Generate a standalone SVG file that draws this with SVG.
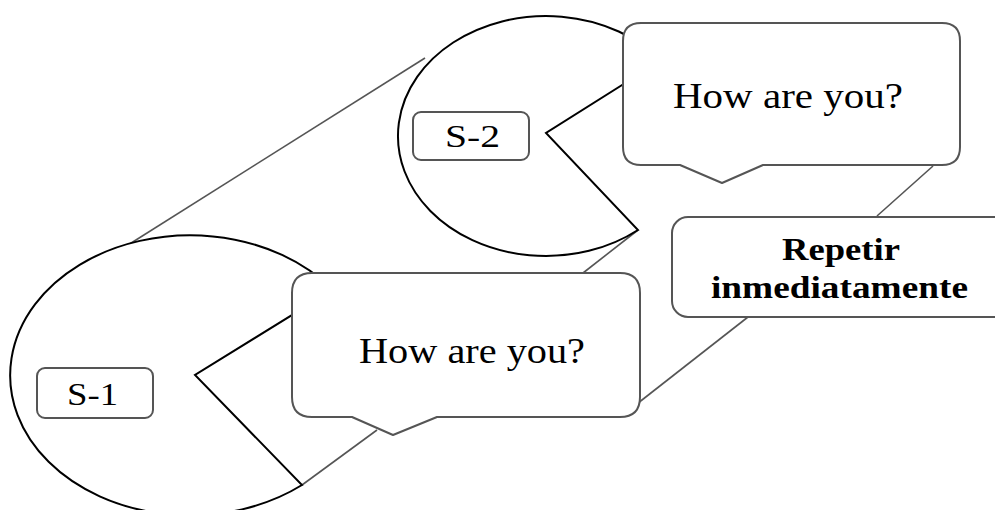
<svg xmlns="http://www.w3.org/2000/svg" width="995" height="510" viewBox="0 0 995 510">
<style>
.head{fill:#fff;stroke:#000;stroke-width:2;stroke-linejoin:miter}
.bubble{fill:#fff;stroke:#555;stroke-width:2;stroke-linejoin:round}
.label{fill:#fff;stroke:#555;stroke-width:2}
.conn{fill:none;stroke:#555;stroke-width:1.6}
.t{font-family:"Liberation Serif","Times New Roman",serif;fill:#000}
.b{font-weight:bold}
</style>
<rect width="995" height="510" fill="#fff"/>
<g id="connectors">
<line class="conn" x1="128" y1="245" x2="425" y2="58"/>
<line class="conn" x1="583" y1="273" x2="638" y2="230"/>
<line class="conn" x1="933" y1="166" x2="877" y2="216"/>
<line class="conn" x1="748" y1="317" x2="633" y2="407"/>
<line class="conn" x1="302" y1="485" x2="377" y2="430"/>
</g>
<g id="s2-head">
<path class="head" d="M661,60.5 L546,133 L638,230 A148 120 0 1 1 661,60.5 Z"/>
</g>
<g id="s2-label">
<rect class="label" x="413" y="112" width="116" height="48" rx="8"/>
<text class="t" x="445" y="147" font-size="32" textLength="55" lengthAdjust="spacingAndGlyphs">S-2</text>
</g>
<g id="s2-bubble">
<path class="bubble" d="M641,23 H942 Q960,23 960,41 V147 Q960,165 942,165 H763 L722,183 L680,165 H641 Q623,165 623,147 V41 Q623,23 641,23 Z"/>
<text class="t" x="673" y="108" font-size="36" textLength="230" lengthAdjust="spacingAndGlyphs">How are you?</text>
</g>
<g id="s1-head">
<path class="head" d="M332.7,289.8 L195,375 L302,485 A180 140 0 1 1 332.7,289.8 Z"/>
</g>
<g id="s1-label">
<rect class="label" x="37" y="368" width="116" height="50" rx="8"/>
<text class="t" x="67" y="405" font-size="32" textLength="51" lengthAdjust="spacingAndGlyphs">S-1</text>
</g>
<g id="s1-bubble">
<path class="bubble" d="M312,273 H620 Q640,273 640,293 V397 Q640,417 620,417 H437 L393,435 L352,417 H312 Q292,417 292,397 V293 Q292,273 312,273 Z"/>
<text class="t" x="359" y="363" font-size="35" textLength="226" lengthAdjust="spacingAndGlyphs">How are you?</text>
</g>
<g id="repetir">
<rect class="bubble" x="672" y="217" width="345" height="100" rx="16"/>
<text class="t b" x="782" y="260" font-size="31" textLength="118" lengthAdjust="spacingAndGlyphs">Repetir</text>
<text class="t b" x="711" y="298" font-size="31" textLength="257" lengthAdjust="spacingAndGlyphs">inmediatamente</text>
</g>
</svg>
